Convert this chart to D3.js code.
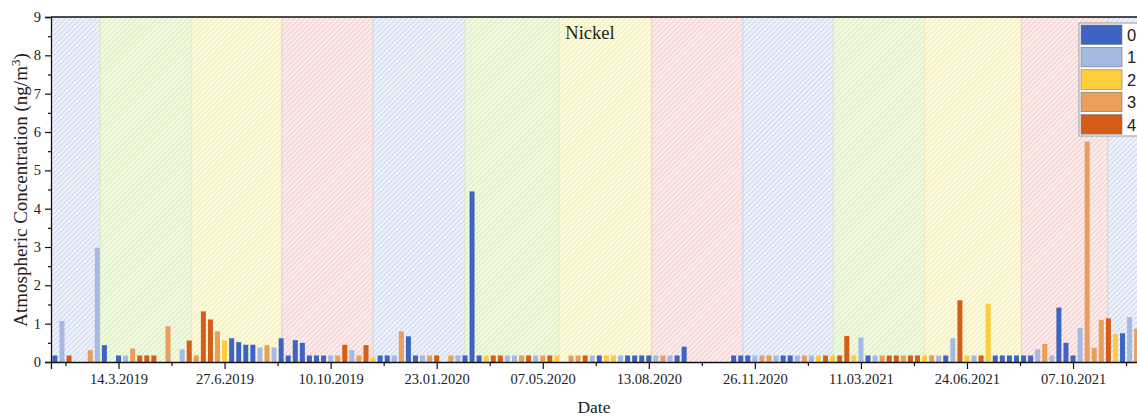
<!DOCTYPE html>
<html>
<head>
<meta charset="utf-8">
<script src="https://cdn.jsdelivr.net/npm/d3@7"></script>
<style>
  body { margin: 0; background: #fff; }
  svg { display: block; }
</style>
</head>
<body>
<svg id="chart" width="1137" height="416"></svg>
<script>
// Weekly sample number (week 0 = first sampling day), cluster class and Ni concentration (ng/m3)
const sampleWeek = [
  0, 1, 2, 5, 6, 7, 9, 10, 11, 12, 13, 14, 16, 18, 19, 20, 21, 22, 23, 24,
  25, 26, 27, 28, 29, 30, 31, 32, 33, 34, 35, 36, 37, 38, 39, 40, 41, 42, 43, 44,
  45, 46, 47, 48, 49, 50, 51, 52, 53, 54, 56, 57, 58, 59, 60, 61, 62, 63, 64, 65,
  66, 67, 68, 69, 70, 71, 73, 74, 75, 76, 77, 78, 79, 80, 81, 82, 83, 84, 85, 86,
  87, 88, 89, 96, 97, 98, 99, 100, 101, 102, 103, 104, 105, 106, 107, 108, 109, 110, 111, 112,
  113, 114, 115, 116, 117, 118, 119, 120, 121, 122, 123, 124, 125, 126, 127, 128, 129, 130, 131, 132,
  133, 134, 135, 136, 137, 138, 139, 140, 141, 142, 143, 144, 145, 146, 147, 148, 149, 150, 151, 152, 153
];
const sampleGroup = [
  0, 1, 4, 3, 1, 0, 0, 1, 3, 4, 4, 4, 3, 1, 4, 3, 4, 4, 3, 2,
  0, 0, 0, 0, 1, 3, 1, 0, 0, 0, 0, 0, 0, 0, 1, 3, 4, 1, 3, 4,
  2, 0, 0, 1, 3, 0, 0, 1, 3, 4, 3, 1, 0, 0, 0, 2, 4, 4, 1, 1,
  3, 4, 1, 3, 4, 2, 3, 3, 4, 1, 0, 2, 2, 1, 0, 0, 0, 0, 1, 3,
  1, 0, 0, 0, 0, 0, 1, 3, 3, 1, 0, 0, 1, 3, 1, 2, 4, 2, 4, 4,
  2, 1, 0, 1, 3, 4, 4, 3, 4, 4, 2, 3, 1, 0, 1, 4, 2, 1, 4, 2,
  0, 0, 0, 0, 0, 0, 1, 3, 1, 0, 0, 0, 1, 3, 3, 3, 4, 2, 0, 1, 3
];
const nickel = [
  0.17, 1.07, 0.17, 0.31, 2.98, 0.44, 0.17, 0.17, 0.35, 0.17, 0.17, 0.17, 0.93, 0.33, 0.56, 0.17, 1.32, 1.11, 0.80, 0.56,
  0.62, 0.52, 0.45, 0.45, 0.38, 0.44, 0.38, 0.62, 0.17, 0.57, 0.50, 0.17, 0.17, 0.17, 0.17, 0.17, 0.45, 0.31, 0.17, 0.44,
  0.12, 0.17, 0.17, 0.17, 0.80, 0.67, 0.17, 0.17, 0.17, 0.17, 0.17, 0.17, 0.17, 4.45, 0.17, 0.17, 0.17, 0.17, 0.17, 0.17,
  0.17, 0.17, 0.17, 0.17, 0.17, 0.17, 0.17, 0.17, 0.17, 0.17, 0.17, 0.17, 0.17, 0.17, 0.17, 0.17, 0.17, 0.17, 0.17, 0.17,
  0.17, 0.17, 0.40, 0.17, 0.17, 0.17, 0.17, 0.17, 0.17, 0.17, 0.17, 0.17, 0.17, 0.17, 0.17, 0.17, 0.17, 0.17, 0.17, 0.68,
  0.17, 0.64, 0.17, 0.17, 0.17, 0.17, 0.17, 0.17, 0.17, 0.17, 0.17, 0.17, 0.17, 0.17, 0.62, 1.61, 0.17, 0.17, 0.17, 1.52,
  0.17, 0.17, 0.17, 0.17, 0.17, 0.17, 0.33, 0.47, 0.17, 1.42, 0.50, 0.17, 0.89, 5.75, 0.37, 1.10, 1.14, 0.73, 0.75, 1.17, 0.87
];

const groupNames = ["0", "1", "2", "3", "4"];
const groupColors = ["#3E64C3", "#A5B9E3", "#FDCD3D", "#EA9E5B", "#D55E16"];

// Labelled sampling dates on the time axis (every 15th week, starting at week 9)
const tickLabels = ["14.3.2019", "27.6.2019", "10.10.2019", "23.01.2020", "07.05.2020",
                    "13.08.2020", "26.11.2020", "11.03.2021", "24.06.2021", "07.10.2021"];
const tickWeeks = [9, 24, 39, 54, 69, 84, 99, 114, 129, 144];

// Season shading: band edges in week units and the season of each band
const seasonEdges = [-0.55, 6.4, 19.35, 32.1, 45.0, 58.0, 71.3, 84.4, 97.3, 110.1, 123.0, 136.7, 148.9, 157];
const seasonOfBand = ["winter", "spring", "summer", "autumn", "winter", "spring", "summer",
                      "autumn", "winter", "spring", "summer", "autumn", "winter"];
const seasonStyle = {
  winter: { bg: "#F2F5FC", line: "#C6D2EE", edge: "#C4CCE4" },
  spring: { bg: "#F5FBEA", line: "#D5EBAC", edge: "#D2E4B0" },
  summer: { bg: "#FDFCEA", line: "#F2EBA0", edge: "#EDE4B0" },
  autumn: { bg: "#FDF0F0", line: "#F3C5C5", edge: "#E9C4C4" }
};

const svg = d3.select("#chart");
const plot = { left: 51, right: 1160, top: 17, bottom: 362 };

const x = d3.scaleLinear().domain([-0.55, 156.3]).range([plot.left, plot.right]);
const y = d3.scaleLinear().domain([0, 9]).range([plot.bottom, plot.top]);

const defs = svg.append("defs");
defs.append("clipPath").attr("id", "plot-clip")
  .append("rect")
  .attr("x", plot.left).attr("y", plot.top)
  .attr("width", plot.right - plot.left).attr("height", plot.bottom - plot.top);

const hs = 3.6;
Object.entries(seasonStyle).forEach(([name, s]) => {
  const p = defs.append("pattern")
    .attr("id", "hatch-" + name)
    .attr("patternUnits", "userSpaceOnUse")
    .attr("width", hs).attr("height", hs)
    .attr("patternTransform", "rotate(45)");
  p.append("rect").attr("width", hs).attr("height", hs).attr("fill", s.bg);
  p.append("line").attr("x1", hs / 2).attr("x2", hs / 2).attr("y1", 0).attr("y2", hs)
    .attr("stroke", s.line).attr("stroke-width", 1.1);
});

// Hatched season bands
const bands = seasonOfBand.map((s, i) => ({ season: s, x0: seasonEdges[i], x1: seasonEdges[i + 1] }));
const bandG = svg.append("g").attr("clip-path", "url(#plot-clip)");
bandG.selectAll("rect.band").data(bands).join("rect")
  .attr("class", "band")
  .attr("x", d => x(d.x0)).attr("width", d => x(d.x1) - x(d.x0))
  .attr("y", plot.top).attr("height", plot.bottom - plot.top)
  .attr("fill", d => "url(#hatch-" + d.season + ")");
bandG.selectAll("line.edge").data(bands.slice(1)).join("line")
  .attr("class", "edge")
  .attr("x1", d => x(d.x0)).attr("x2", d => x(d.x0))
  .attr("y1", plot.top).attr("y2", plot.bottom)
  .attr("stroke", d => seasonStyle[d.season].edge).attr("stroke-width", 0.8);

// Bars
const samples = sampleWeek.map((w, i) => ({ w, g: sampleGroup[i], v: nickel[i] }));
const barW = 5;
svg.append("g").attr("clip-path", "url(#plot-clip)")
  .selectAll("rect").data(samples).join("rect")
  .attr("x", d => x(d.w) - barW / 2).attr("width", barW)
  .attr("y", d => y(d.v)).attr("height", d => y(0) - y(d.v))
  .attr("fill", d => groupColors[d.g]);

// Frame: top border
svg.append("line")
  .attr("x1", plot.left).attr("x2", plot.right)
  .attr("y1", plot.top).attr("y2", plot.top)
  .attr("stroke", "#111").attr("stroke-width", 1.3);

const serif = "'Liberation Serif', 'Times New Roman', serif";

// X axis
const minorWeeks = d3.range(1.5, 156, 15);
const xMinor = svg.append("g").attr("transform", `translate(0,${plot.bottom})`)
  .call(d3.axisBottom(x).tickValues(minorWeeks).tickSize(4).tickFormat(""));
const xAxis = svg.append("g").attr("transform", `translate(0,${plot.bottom})`)
  .call(d3.axisBottom(x).tickValues(tickWeeks).tickSize(7).tickPadding(5)
    .tickFormat((d, i) => tickLabels[i]));
xAxis.select(".domain").attr("stroke", "#111").attr("stroke-width", 1.3);
xMinor.select(".domain").remove();
[xAxis, xMinor].forEach(g => g.selectAll(".tick line").attr("stroke", "#111").attr("stroke-width", 1.2));
xAxis.selectAll(".tick text").attr("font-family", serif).attr("font-size", 14.5).attr("fill", "#222");

// Y axis
const yMinor = svg.append("g").attr("transform", `translate(${plot.left},0)`)
  .call(d3.axisLeft(y).tickValues(d3.range(0.5, 9, 1)).tickSize(3).tickFormat(""));
const yAxis = svg.append("g").attr("transform", `translate(${plot.left},0)`)
  .call(d3.axisLeft(y).tickValues(d3.range(0, 10, 1)).tickSize(6).tickPadding(4).tickFormat(d3.format("d")));
yMinor.select(".domain").remove();
yAxis.select(".domain").attr("stroke", "#111").attr("stroke-width", 1.3);
[yAxis, yMinor].forEach(g => g.selectAll(".tick line").attr("stroke", "#111").attr("stroke-width", 1.2));
yAxis.selectAll(".tick text").attr("font-family", serif).attr("font-size", 14.5).attr("fill", "#222");

// Axis titles
svg.append("text")
  .attr("x", 594).attr("y", 413)
  .attr("text-anchor", "middle")
  .attr("font-family", serif).attr("font-size", 17.5).attr("fill", "#222")
  .text("Date");

const yTitle = svg.append("text")
  .attr("transform", "translate(27,190) rotate(-90)")
  .attr("text-anchor", "middle")
  .attr("font-family", serif).attr("font-size", 19).attr("fill", "#222");
yTitle.append("tspan").text("Atmospheric Concentration (ng/m");
yTitle.append("tspan").attr("baseline-shift", "super").attr("font-size", 13).text("3");
yTitle.append("tspan").text(")");

// Panel title
svg.append("text")
  .attr("x", 590).attr("y", 39)
  .attr("text-anchor", "middle")
  .attr("font-family", serif).attr("font-size", 18.5).attr("fill", "#222")
  .text("Nickel");

// Legend
const lg = svg.append("g");
lg.append("rect")
  .attr("x", 1079).attr("y", 23).attr("width", 80).attr("height", 113)
  .attr("fill", "#fff").attr("stroke", "#9a9a9a").attr("stroke-width", 1);
const items = lg.selectAll("g.item").data(groupNames).join("g")
  .attr("class", "item")
  .attr("transform", (d, i) => `translate(1081,${25 + i * 22.4})`);
items.append("rect")
  .attr("width", 41).attr("height", 19.5)
  .attr("fill", (d, i) => groupColors[i])
  .attr("stroke", "#777").attr("stroke-width", 0.6);
items.append("text")
  .attr("x", 46).attr("y", 10).attr("dy", "0.36em")
  .attr("font-family", "'Liberation Sans', Arial, sans-serif").attr("font-size", 16.5).attr("fill", "#222")
  .text(d => d);
</script>
</body>
</html>
